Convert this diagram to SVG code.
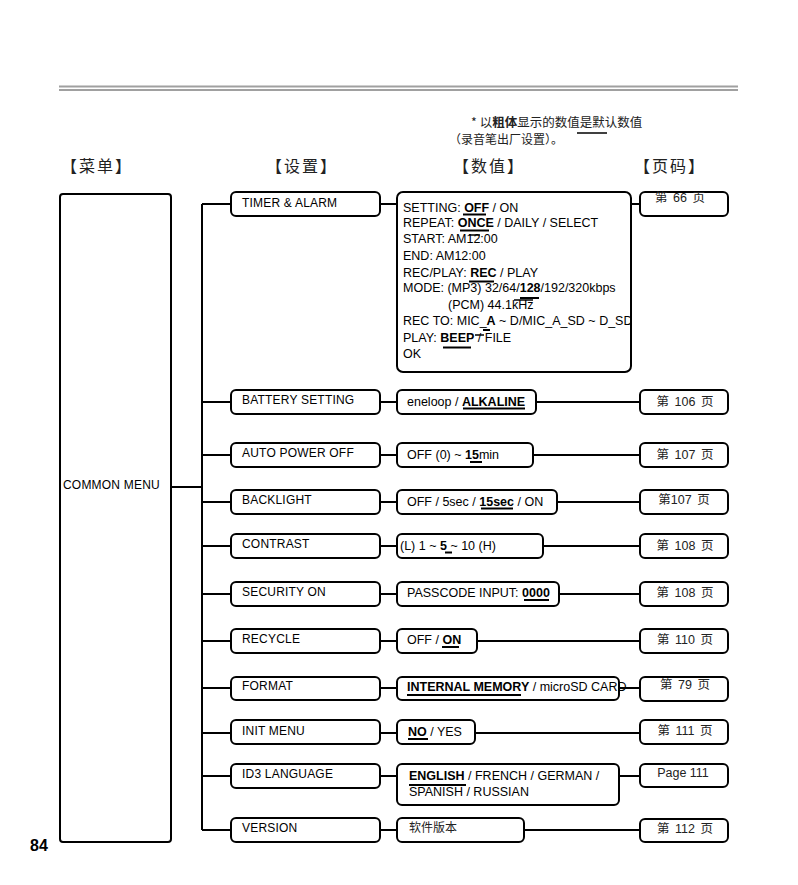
<svg xmlns="http://www.w3.org/2000/svg" width="798" height="885" viewBox="0 0 798 885">
<style>
.box{fill:#fff;stroke:#000;stroke-width:2}
.conn{fill:none;stroke:#000;stroke-width:2}
.ul{stroke:#000;stroke-width:2}
.ul1{stroke:#000;stroke-width:1.5}
.lab{font-family:"Liberation Sans",Arial,sans-serif;font-size:12px;letter-spacing:0.2px;fill:#000}
.val{font-family:"Liberation Sans",Arial,sans-serif;font-size:12.5px;fill:#000}
.b{font-weight:bold}
.pg{font-family:"Liberation Sans","Noto Sans CJK SC",sans-serif;font-size:12.5px;fill:#222;text-anchor:middle;word-spacing:2px}
.pgen{word-spacing:0}
.cjk{font-family:"Noto Sans CJK SC",sans-serif;fill:#222}
.hd{font-family:"Noto Sans CJK SC",sans-serif;font-size:16px;letter-spacing:2px;fill:#222}
</style>
<defs>
<clipPath id="timerClip"><rect x="398" y="193" width="232" height="178"/></clipPath>
</defs>
<rect width="798" height="885" fill="#fff"/>

<g id="rules">
<line x1="59" y1="86.5" x2="738" y2="86.5" stroke="#a0a0a0" stroke-width="2"/>
<line x1="59" y1="90" x2="738" y2="90" stroke="#a0a0a0" stroke-width="2"/>
</g>

<g id="note">
<text class="cjk" x="471" y="127" font-size="12.5">* 以<tspan font-weight="bold">粗体</tspan>显示的数值是默认数值</text>
<line class="ul1" x1="577" y1="133" x2="607" y2="133"/>
<text class="cjk" x="449" y="144" font-size="12">（录音笔出厂设置）。</text>
</g>

<g id="headers">
<text class="hd" x="61" y="172">【菜单】</text>
<text class="hd" x="266" y="172">【设置】</text>
<text class="hd" x="453" y="172">【数值】</text>
<text class="hd" x="634" y="172">【页码】</text>
</g>

<g id="connectors">
<path class="conn" d="M171 487H202M202 204V830"/>
<path class="conn" d="M202 204H231M202 402H231M202 455H231M202 502H231M202 546H231M202 594H231M202 641H231M202 688H231M202 733H231M202 776H231M202 830H231"/>
<path class="conn" d="M380 204H397M380 402H397M380 455H397M380 502H397M380 546H397M380 594H397M380 641H397M380 688H397M380 733H397M380 776H397M380 830H397"/>
<path class="conn" d="M631 204H640M536 402H640M533 455H640M557 502H640M543 546H640M559 594H640M477 641H640M619 688H640M475 733H640M619 776H640M524 830H640"/>
</g>

<g id="menu-common">
<rect class="box" x="60" y="194" width="111" height="648" rx="3"/>
<text class="lab" x="63" y="489">COMMON MENU</text>
</g>

<g id="set-timer"><rect class="box" x="231" y="192" width="149" height="24" rx="5"/><text class="lab" x="242" y="207">TIMER &amp; ALARM</text></g>
<g id="set-battery"><rect class="box" x="231" y="390" width="149" height="24" rx="5"/><text class="lab" x="242" y="404">BATTERY SETTING</text></g>
<g id="set-autopower"><rect class="box" x="231" y="443" width="149" height="24" rx="5"/><text class="lab" x="242" y="457">AUTO POWER OFF</text></g>
<g id="set-backlight"><rect class="box" x="231" y="490" width="149" height="24" rx="5"/><text class="lab" x="242" y="504">BACKLIGHT</text></g>
<g id="set-contrast"><rect class="box" x="231" y="534" width="149" height="24" rx="5"/><text class="lab" x="242" y="548">CONTRAST</text></g>
<g id="set-security"><rect class="box" x="231" y="582" width="149" height="24" rx="5"/><text class="lab" x="242" y="596">SECURITY ON</text></g>
<g id="set-recycle"><rect class="box" x="231" y="629" width="149" height="24" rx="5"/><text class="lab" x="242" y="643">RECYCLE</text></g>
<g id="set-format"><rect class="box" x="231" y="677" width="149" height="23" rx="5"/><text class="lab" x="242" y="690">FORMAT</text></g>
<g id="set-init"><rect class="box" x="231" y="720" width="149" height="24" rx="5"/><text class="lab" x="242" y="735">INIT MENU</text></g>
<g id="set-id3"><rect class="box" x="231" y="764" width="149" height="24" rx="5"/><text class="lab" x="242" y="778">ID3 LANGUAGE</text></g>
<g id="set-version"><rect class="box" x="231" y="818" width="149" height="24" rx="5"/><text class="lab" x="242" y="832">VERSION</text></g>

<g id="val-timer">
<rect class="box" x="397" y="192" width="234" height="180" rx="6"/>
<g clip-path="url(#timerClip)">
<text class="val" x="403" y="211.5">SETTING: <tspan class="b">OFF</tspan> / ON</text>
<text class="val" x="403" y="227">REPEAT: <tspan class="b">ONCE</tspan> / DAILY / SELECT</text>
<text class="val" x="403" y="243">START: AM12:00</text>
<text class="val" x="403" y="260">END: AM12:00</text>
<text class="val" x="403" y="276.5">REC/PLAY: <tspan class="b">REC</tspan> / PLAY</text>
<text class="val" x="403" y="292">MODE: (MP3) 32/64/<tspan class="b">128</tspan>/192/320kbps</text>
<text class="val" x="448" y="309">(PCM) 44.1kHz</text>
<text class="val" x="403" y="325">REC TO: MIC_<tspan class="b">A</tspan> ~ D/MIC_A_SD ~ D_SD</text>
<text class="val" x="403" y="341.5">PLAY: <tspan class="b">BEEP</tspan> / FILE</text>
<text class="val" x="403" y="358">OK</text>
</g>
<line class="ul" x1="463" y1="214.5" x2="486" y2="214.5"/>
<line class="ul" x1="460" y1="230.5" x2="489" y2="230.5"/>
<line class="ul1" x1="469" y1="235" x2="480" y2="235"/>
<line class="ul" x1="469" y1="281.5" x2="494" y2="281.5"/>
<line class="ul" x1="520" y1="298" x2="539" y2="298"/>
<line class="ul1" x1="514" y1="300" x2="533" y2="300"/>
<line class="ul" x1="483" y1="330" x2="490" y2="330"/>
<line class="ul1" x1="475" y1="335" x2="484" y2="335"/>
<line class="ul" x1="443" y1="347.5" x2="471" y2="347.5"/>
</g>

<g id="val-battery"><rect class="box" x="397" y="390" width="139" height="24" rx="5"/><text class="val" x="407" y="405.5">eneloop / <tspan class="b">ALKALINE</tspan></text><line class="ul" x1="463" y1="408.5" x2="525" y2="408.5"/></g>
<g id="val-autopower"><rect class="box" x="397" y="443" width="136" height="24" rx="5"/><text class="val" x="407" y="459">OFF (0) ~ <tspan class="b">15</tspan>min</text><line class="ul" x1="470" y1="462" x2="482" y2="462"/></g>
<g id="val-backlight"><rect class="box" x="397" y="490" width="160" height="24" rx="5"/><text class="val" x="407" y="506">OFF / 5sec / <tspan class="b">15sec</tspan> / ON</text><line class="ul" x1="481" y1="508.5" x2="513" y2="508.5"/></g>
<g id="val-contrast"><rect class="box" x="397" y="534" width="146" height="24" rx="5"/><text class="val" x="400" y="550">(L) 1 ~ <tspan class="b">5</tspan> ~ 10 (H)</text><line class="ul" x1="445" y1="552.5" x2="452" y2="552.5"/></g>
<g id="val-security"><rect class="box" x="397" y="582" width="162" height="24" rx="5"/><text class="val" x="407" y="597">PASSCODE INPUT: <tspan class="b">0000</tspan></text><line class="ul" x1="524" y1="600" x2="549" y2="600"/></g>
<g id="val-recycle"><rect class="box" x="397" y="629" width="80" height="24" rx="5"/><text class="val" x="407" y="644">OFF / <tspan class="b">ON</tspan></text><line class="ul" x1="442" y1="647" x2="459" y2="647"/></g>
<g id="val-format"><rect class="box" x="397" y="677" width="222" height="23" rx="5"/><text class="val" x="407" y="691"><tspan class="b">INTERNAL MEMORY</tspan> / microSD CARD</text><line class="ul" x1="407" y1="695" x2="521" y2="695"/></g>
<g id="val-init"><rect class="box" x="397" y="720" width="78" height="24" rx="5"/><text class="val" x="408" y="736"><tspan class="b">NO</tspan> / YES</text><line class="ul" x1="408" y1="739" x2="428" y2="739"/></g>
<g id="val-id3"><rect class="box" x="397" y="764" width="222" height="41" rx="5"/><text class="val" x="409" y="780"><tspan class="b">ENGLISH</tspan> / FRENCH / GERMAN /</text><text class="val" x="409" y="796">SPANISH / RUSSIAN</text><line class="ul" x1="409" y1="785" x2="466" y2="785"/></g>
<g id="val-version"><rect class="box" x="397" y="818" width="127" height="24" rx="5"/><text class="cjk" x="409" y="832" font-size="12">软件版本</text></g>

<g id="page-timer"><rect class="box" x="640" y="192" width="88" height="24" rx="5"/><text class="pg" x="680" y="202">第 66 页</text></g>
<g id="page-battery"><rect class="box" x="640" y="390" width="88" height="24" rx="5"/><text class="pg" x="685" y="406">第 106 页</text></g>
<g id="page-autopower"><rect class="box" x="640" y="443" width="88" height="24" rx="5"/><text class="pg" x="685" y="459">第 107 页</text></g>
<g id="page-backlight"><rect class="box" x="640" y="490" width="88" height="24" rx="5"/><text class="pg" x="684" y="504">第107 页</text></g>
<g id="page-contrast"><rect class="box" x="640" y="534" width="88" height="24" rx="5"/><text class="pg" x="685" y="550">第 108 页</text></g>
<g id="page-security"><rect class="box" x="640" y="582" width="88" height="24" rx="5"/><text class="pg" x="685" y="597">第 108 页</text></g>
<g id="page-recycle"><rect class="box" x="640" y="629" width="88" height="24" rx="5"/><text class="pg" x="685" y="644">第 110 页</text></g>
<g id="page-format"><rect class="box" x="640" y="677" width="88" height="24" rx="5"/><text class="pg" x="685" y="689">第 79 页</text></g>
<g id="page-init"><rect class="box" x="640" y="720" width="88" height="24" rx="5"/><text class="pg" x="685" y="735">第 111 页</text></g>
<g id="page-id3"><rect class="box" x="640" y="764" width="88" height="23" rx="5"/><text class="pg pgen" x="683" y="777" font-size="13">Page 111</text></g>
<g id="page-version"><rect class="box" x="640" y="819" width="88" height="23" rx="5"/><text class="pg" x="685" y="833">第 112 页</text></g>

<text x="30" y="851" font-family="'Liberation Sans Narrow','Liberation Sans',sans-serif" font-weight="bold" font-size="16" fill="#000">84</text>
</svg>
